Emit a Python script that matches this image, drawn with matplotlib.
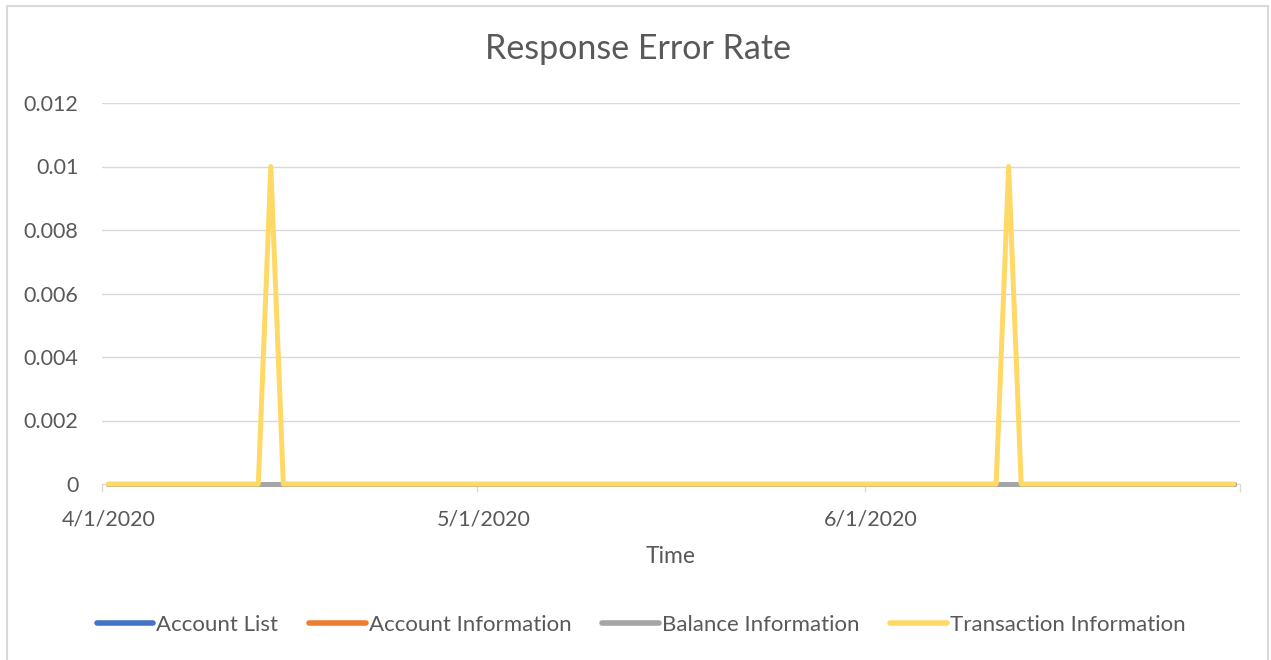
import numpy as np
import pandas as pd
import matplotlib
matplotlib.use("Agg")
import matplotlib.pyplot as plt
import matplotlib.dates as mdates
from matplotlib.patches import Rectangle
from matplotlib.ticker import FixedLocator, FuncFormatter

# daily dates, 4/1/2020 .. 6/30/2020
dates = pd.date_range("2020-04-01", "2020-06-30", freq="D")

# error rate per endpoint
account_list = [0.0] * 91
account_info = [0.0] * 91
balance_info = [0.0] * 91
transaction_info = [0.0] * 13 + [0.01] + [0.0] * 58 + [0.01] + [0.0] * 18

series_names = ["Account List", "Account Information", "Balance Information", "Transaction Information"]
series_colors = ["#4472C4", "#ED7D31", "#A5A5A5", "#FFD966"]
month_labels = ["4/1/2020", "5/1/2020", "6/1/2020"]
y_ticks = [0, 0.002, 0.004, 0.006, 0.008, 0.01, 0.012]

txt = "#595959"
plt.rcParams["font.family"] = ["Lato", "DejaVu Sans"]

fig = plt.figure(figsize=(12.71, 6.6), dpi=100)
ax = fig.add_axes([102/1271, 176/660, 1138/1271, 381/660])

# Excel date axis "between tick marks": points sit in the middle of each day
x = dates + pd.Timedelta(hours=12)
for vals, name, col in zip([account_list, account_info, balance_info, transaction_info],
                           series_names, series_colors):
    ax.plot(x, vals, color=col, lw=3.6, solid_capstyle="round",
            solid_joinstyle="round", label=name, clip_on=False, zorder=3)

ax.set_xlim(pd.Timestamp("2020-04-01"), pd.Timestamp("2020-07-01"))
ax.set_ylim(0, 0.012)

# month boundaries -> small tick marks, labels centred on the day
month_starts = pd.to_datetime(["2020-04-01", "2020-05-01", "2020-06-01", "2020-07-01"])
ax.xaxis.set_minor_locator(FixedLocator(mdates.date2num(month_starts)))
label_pos = mdates.date2num(pd.to_datetime(["2020-04-01", "2020-05-01", "2020-06-01"]) + pd.Timedelta(hours=12))
ax.set_xticks(label_pos)
ax.set_xticklabels(month_labels)
ax.tick_params(axis="x", which="major", length=0, pad=18, labelsize=15.5, labelcolor=txt)
ax.tick_params(axis="x", which="minor", length=6, width=1, color="#D9D9D9")

ax.set_yticks(y_ticks)
ax.yaxis.set_major_formatter(FuncFormatter(lambda v, p: "0" if v == 0 else f"{v:g}"))
ax.tick_params(axis="y", length=0, pad=17, labelsize=15.5, labelcolor=txt)

ax.grid(axis="y", color="#D9D9D9", lw=1)
ax.set_axisbelow(True)
for s in ["top", "right", "left"]:
    ax.spines[s].set_visible(False)
ax.spines["bottom"].set_color("#D9D9D9")

ax.set_xlabel("Time", fontsize=16.5, color=txt, labelpad=12)

fig.text(638/1271, 1 - 49/660, "Response Error Rate", ha="center", va="center",
         fontsize=24.5, color=txt)

leg = fig.legend(loc="center", bbox_to_anchor=(641/1271, 1 - 625/660), ncol=4,
                 frameon=False, fontsize=16, handlelength=2.55, handletextpad=0.12,
                 columnspacing=1.4)
for t in leg.get_texts():
    t.set_color(txt)
for h in leg.get_lines():
    h.set_linewidth(4)
    h.set_solid_capstyle("round")

# chart area border
fig.patches.append(Rectangle((6.5/1271, -0.01), 1261/1271, 1 - 5.5/660 + 0.01,
                             transform=fig.transFigure, fill=False,
                             edgecolor="#D9D9D9", lw=1.5))

fig.savefig("out.png", dpi=100)
